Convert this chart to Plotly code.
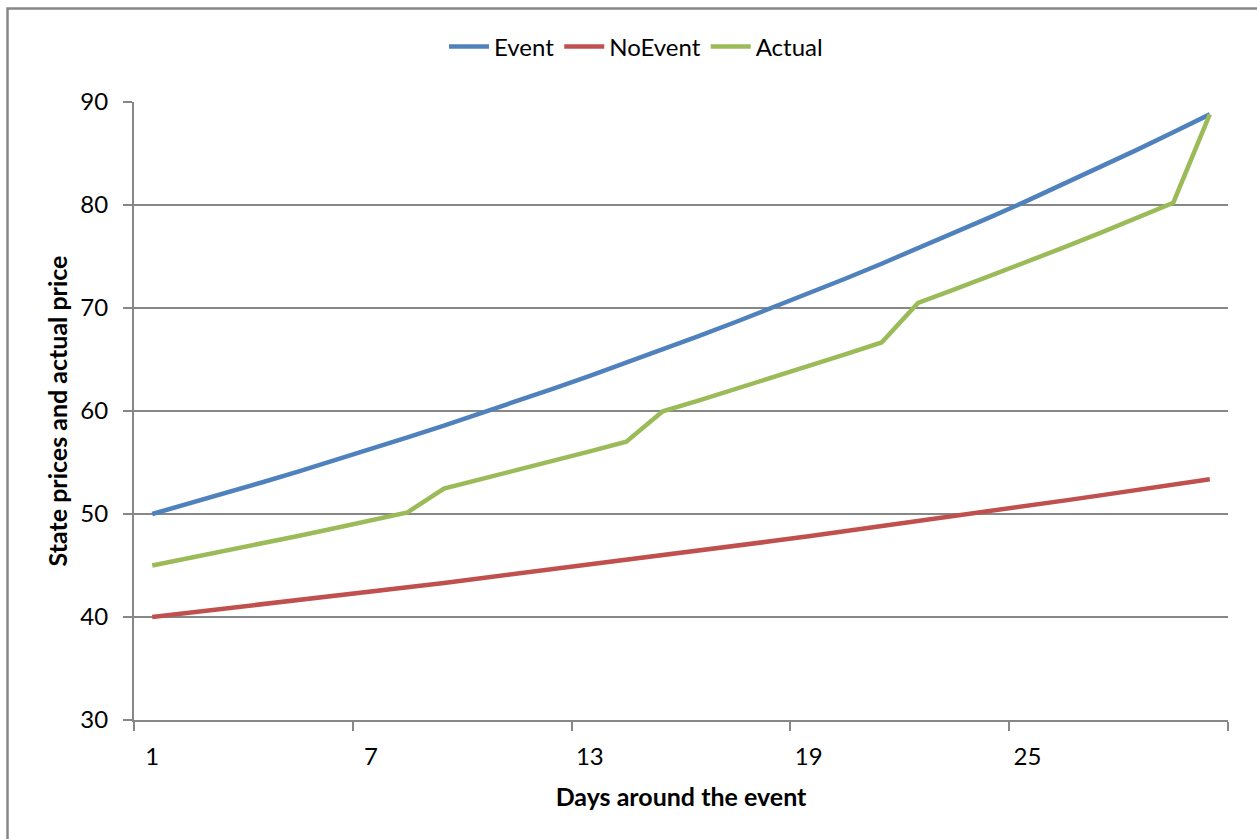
import plotly.graph_objects as go

days = list(range(1, 31))

event = [50.00, 51.00, 52.02, 53.06, 54.12, 55.20, 56.31, 57.43, 58.58, 59.75,
         60.95, 62.17, 63.41, 64.68, 65.97, 67.29, 68.64, 70.01, 71.41, 72.84,
         74.30, 75.79, 77.30, 78.85, 80.42, 82.03, 83.67, 85.35, 87.06, 88.80]

no_event = [40.00, 40.40, 40.80, 41.21, 41.62, 42.04, 42.46, 42.89, 43.31, 43.75,
            44.19, 44.63, 45.07, 45.53, 45.98, 46.44, 46.90, 47.37, 47.85, 48.33,
            48.81, 49.30, 49.79, 50.29, 50.79, 51.30, 51.81, 52.33, 52.85, 53.38]

actual = [45.00, 45.70, 46.41, 47.14, 47.87, 48.62, 49.39, 50.16, 52.47, 53.35,
          54.25, 55.15, 56.08, 57.02, 59.97, 61.03, 62.12, 63.22, 64.35, 65.49,
          66.65, 70.49, 71.80, 73.14, 74.50, 75.88, 77.30, 78.75, 80.22, 88.80]

x_labels = [1, 7, 13, 19, 25]
x_bounds = [0.5, 6.5, 12.5, 18.5, 24.5, 30.5]
y_ticks = [30, 40, 50, 60, 70, 80, 90]

series = [("Event", event, "#4F81BD"),
          ("NoEvent", no_event, "#C0504D"),
          ("Actual", actual, "#9BBB59")]

FONT = "Lato, 'Open Sans', sans-serif"
GRID = "#878787"

fig = go.Figure()
for name, vals, color in series:
    fig.add_trace(go.Scatter(x=days, y=vals, name=name, mode="lines",
                             line=dict(color=color, width=4.5)))

L, R, T, B = 134, 29, 102, 119
W, H = 1257, 839
pw, ph = W - L - R, H - T - B

fig.update_layout(
    width=W, height=H,
    margin=dict(l=L, r=R, t=T, b=B, pad=0),
    paper_bgcolor="white", plot_bgcolor="white",
    font=dict(family=FONT, size=24, color="black"),
    showlegend=True,
    legend=dict(orientation="h", x=(636 - L) / pw, xanchor="center",
                y=1 + (T - 47) / ph, yanchor="middle",
                font=dict(size=24), itemwidth=40, traceorder="normal"),
    xaxis=dict(
        range=[0.5, 30.5], tickmode="array", tickvals=x_labels,
        ticktext=[str(v) for v in x_labels], ticks="",
        showgrid=False, zeroline=False, showline=True,
        linecolor=GRID, linewidth=2,
        ticklabelstandoff=14,
        minor=dict(tickmode="array", tickvals=x_bounds, ticks="outside",
                   ticklen=9, tickwidth=2, tickcolor=GRID, showgrid=False),
        title=dict(text="<b>Days around the event</b>", font=dict(size=25),
                   standoff=20),
    ),
    yaxis=dict(
        range=[30, 90], tickmode="array", tickvals=y_ticks,
        ticks="outside", ticklen=9, tickwidth=2, tickcolor=GRID,
        showgrid=True, gridcolor=GRID, gridwidth=1.5,
        zeroline=False, showline=True, linecolor=GRID, linewidth=2,
        ticklabelstandoff=10,
        title=dict(text="<b>State prices and actual price</b>",
                   font=dict(size=25), standoff=6),
    ),
    shapes=[dict(type="path", xref="paper", yref="paper",
                 path=f"M {(7.5 - L) / pw},{-(B + 20) / ph} "
                      f"L {(7.5 - L) / pw},{1 + (T - 8.5) / ph} "
                      f"L {1 + (R + 20) / pw},{1 + (T - 8.5) / ph}",
                 line=dict(color=GRID, width=2.5))],
)

fig.write_html("out.html")
